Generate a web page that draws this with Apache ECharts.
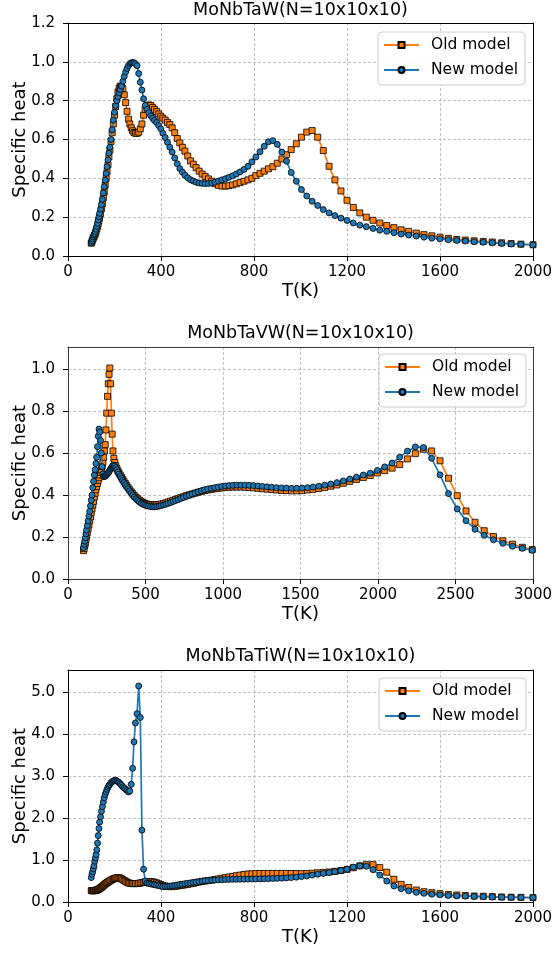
<!DOCTYPE html>
<html>
<head>
<meta charset="utf-8">
<script src="https://cdn.jsdelivr.net/npm/echarts@6/dist/echarts.min.js"></script>
<style>
html,body{margin:0;padding:0;background:#fff;}
#chart{width:555px;height:953px;}
</style>
</head>
<body>
<div id="chart"></div>
<script>
// ---------- data ----------
const panelTitles = ['MoNbTaW(N=10x10x10)', 'MoNbTaVW(N=10x10x10)', 'MoNbTaTiW(N=10x10x10)'];
const seriesNames = ['Old model', 'New model'];
const xAxisName = 'T(K)';
const yAxisName = 'Specific heat';

// temperature grid (K) for MoNbTaW
const tempsTaW = [100,103,106,109,112,115,118,121,124,127,
130,133,136,140,144,148,152,156,160,164,
168,172,176,180,185,190,195,200,205,210,
215,220,225,230,236,242,248,254,260,266,
272,278,284,290,297,304,311,318,325,332,
340,348,356,364,372,381,390,399,408,418,
428,438,448,459,470,481,492,503,515,527,
539,551,564,577,590,604,618,632,647,662,
677,692,708,724,740,757,774,791,808,826,
844,862,881,900,920,940,960,982,1004,1027,
1050,1074,1098,1123,1148,1174,1200,1227,1255,1283,
1312,1341,1371,1402,1433,1465,1498,1531,1565,1600,
1636,1672,1709,1747,1786,1825,1865,1906,1948,2000];

const oldTaW = [0.066,0.074,0.083,0.092,0.100,0.108,0.117,0.128,0.140,0.153,
0.167,0.182,0.197,0.218,0.243,0.27,0.30,0.33,0.365,0.40,
0.435,0.47,0.51,0.545,0.59,0.635,0.68,0.725,0.77,0.81,
0.845,0.865,0.875,0.872,0.862,0.83,0.79,0.745,0.705,0.68,
0.66,0.645,0.636,0.632,0.632,0.638,0.655,0.68,0.725,0.755,
0.772,0.778,0.775,0.765,0.755,0.744,0.732,0.72,0.71,0.70,
0.688,0.677,0.66,0.635,0.605,0.582,0.56,0.54,0.515,0.49,
0.473,0.455,0.437,0.422,0.41,0.397,0.385,0.372,0.364,0.36,
0.36,0.362,0.366,0.372,0.378,0.385,0.392,0.40,0.414,0.426,
0.437,0.449,0.46,0.478,0.50,0.522,0.548,0.578,0.612,0.638,
0.646,0.612,0.543,0.462,0.392,0.335,0.287,0.25,0.222,0.20,
0.184,0.17,0.157,0.146,0.135,0.127,0.118,0.11,0.104,0.097,
0.091,0.085,0.082,0.078,0.075,0.072,0.068,0.064,0.061,0.058];

const newTaW = [0.068,0.077,0.088,0.098,0.108,0.115,0.125,0.138,0.152,0.168,
0.186,0.203,0.220,0.242,0.265,0.292,0.325,0.357,0.39,0.425,
0.46,0.495,0.53,0.56,0.60,0.65,0.70,0.74,0.775,0.80,
0.82,0.84,0.857,0.875,0.90,0.925,0.948,0.966,0.98,0.99,
0.995,0.997,0.995,0.99,0.98,0.94,0.895,0.855,0.81,0.775,
0.755,0.738,0.722,0.71,0.698,0.687,0.672,0.655,0.632,0.61,
0.585,0.56,0.535,0.505,0.475,0.45,0.432,0.416,0.403,0.393,
0.386,0.38,0.376,0.374,0.373,0.373,0.376,0.38,0.386,0.392,
0.398,0.405,0.413,0.422,0.433,0.446,0.462,0.485,0.51,0.537,
0.565,0.588,0.594,0.575,0.535,0.488,0.43,0.385,0.342,0.309,
0.282,0.26,0.239,0.222,0.208,0.195,0.183,0.17,0.159,0.151,
0.142,0.133,0.127,0.12,0.113,0.108,0.103,0.097,0.092,0.088,
0.084,0.08,0.077,0.074,0.071,0.068,0.065,0.062,0.06,0.057];

// temperature grid (K) for MoNbTaVW
const tempsTaVW = [100,104,108,112,116,120,125,130,135,140,
145,150,155,160,165,170,175,180,185,190,
195,200,205,210,215,220,225,230,235,240,
245,250,255,260,265,270,275,280,285,290,
296,302,308,315,322,329,337,345,353,361,
370,379,388,398,408,418,428,439,450,461,
472,484,496,508,520,533,546,559,573,587,
601,616,631,646,662,678,694,711,728,746,
764,782,801,820,840,860,881,902,924,946,
969,992,1016,1040,1065,1090,1116,1142,1169,1197,
1225,1254,1284,1314,1345,1377,1409,1442,1476,1510,
1545,1581,1618,1656,1695,1735,1776,1818,1861,1905,
1950,1996,2043,2091,2140,2190,2241,2293,2346,2400,
2455,2511,2568,2626,2685,2745,2806,2868,2931,2995];

const oldTaVW = [0.135,0.145,0.158,0.172,0.188,0.203,0.222,0.24,0.258,0.277,
0.296,0.315,0.334,0.352,0.37,0.39,0.408,0.425,0.44,0.455,
0.47,0.482,0.495,0.508,0.52,0.535,0.555,0.58,0.61,0.64,
0.71,0.79,0.87,0.93,0.975,1.005,0.93,0.79,0.69,0.61,
0.575,0.555,0.54,0.527,0.515,0.505,0.495,0.485,0.475,0.465,
0.455,0.445,0.435,0.425,0.415,0.406,0.397,0.389,0.382,0.375,
0.369,0.364,0.36,0.357,0.355,0.354,0.353,0.353,0.354,0.355,
0.357,0.36,0.363,0.367,0.371,0.375,0.379,0.383,0.388,0.392,
0.397,0.401,0.405,0.409,0.413,0.417,0.421,0.424,0.427,0.43,
0.432,0.434,0.436,0.437,0.438,0.438,0.438,0.437,0.436,0.434,
0.432,0.43,0.428,0.426,0.424,0.422,0.421,0.42,0.42,0.421,
0.424,0.427,0.431,0.436,0.442,0.448,0.456,0.465,0.474,0.483,
0.493,0.505,0.516,0.528,0.545,0.572,0.597,0.618,0.61,0.563,
0.48,0.397,0.324,0.27,0.23,0.202,0.182,0.166,0.151,0.14];

const newTaVW = [0.15,0.165,0.18,0.197,0.215,0.233,0.255,0.277,0.30,0.322,
0.348,0.375,0.40,0.435,0.465,0.495,0.52,0.55,0.58,0.63,
0.68,0.714,0.70,0.66,0.60,0.535,0.50,0.488,0.488,0.49,
0.494,0.498,0.502,0.506,0.512,0.518,0.524,0.53,0.535,0.54,
0.542,0.538,0.53,0.52,0.51,0.50,0.49,0.48,0.47,0.46,
0.45,0.44,0.43,0.42,0.41,0.40,0.39,0.382,0.374,0.367,
0.361,0.356,0.352,0.349,0.347,0.345,0.344,0.344,0.345,0.347,
0.35,0.353,0.356,0.36,0.364,0.369,0.374,0.378,0.384,0.389,
0.394,0.399,0.405,0.41,0.415,0.42,0.425,0.429,0.432,0.435,
0.438,0.441,0.443,0.445,0.446,0.447,0.447,0.447,0.446,0.445,
0.443,0.441,0.439,0.437,0.435,0.434,0.433,0.432,0.432,0.433,
0.435,0.438,0.442,0.447,0.452,0.459,0.467,0.476,0.485,0.495,
0.504,0.517,0.534,0.552,0.58,0.609,0.629,0.626,0.575,0.496,
0.407,0.334,0.278,0.237,0.208,0.187,0.17,0.156,0.146,0.137];

// temperature grid (K) for MoNbTaTiW (same sampling as MoNbTaW)
const tempsTaTiW = tempsTaW;

const oldTaTiW = [0.27,0.27,0.27,0.27,0.27,0.27,0.275,0.28,0.285,0.29,
0.30,0.31,0.32,0.335,0.35,0.37,0.39,0.41,0.43,0.445,
0.46,0.475,0.49,0.505,0.52,0.535,0.55,0.56,0.57,0.575,
0.578,0.575,0.565,0.55,0.53,0.51,0.49,0.47,0.455,0.445,
0.44,0.438,0.437,0.438,0.44,0.445,0.452,0.46,0.468,0.474,
0.48,0.485,0.485,0.48,0.47,0.455,0.435,0.415,0.395,0.38,
0.37,0.365,0.367,0.372,0.38,0.39,0.40,0.41,0.42,0.435,
0.445,0.46,0.475,0.488,0.50,0.51,0.52,0.535,0.55,0.565,
0.58,0.595,0.61,0.625,0.64,0.655,0.665,0.672,0.676,0.678,
0.68,0.68,0.68,0.68,0.68,0.68,0.678,0.676,0.675,0.678,
0.685,0.695,0.705,0.714,0.73,0.748,0.775,0.815,0.86,0.89,
0.89,0.82,0.71,0.54,0.42,0.345,0.285,0.245,0.222,0.198,
0.18,0.167,0.155,0.143,0.137,0.128,0.12,0.115,0.11,0.105];

const newTaTiW = [0.58,0.66,0.72,0.79,0.86,0.97,1.05,1.13,1.24,1.40,
1.58,1.75,1.90,2.03,2.16,2.27,2.38,2.48,2.56,2.62,
2.68,2.73,2.77,2.80,2.84,2.86,2.88,2.89,2.90,2.88,
2.86,2.84,2.81,2.78,2.74,2.71,2.68,2.65,2.62,2.64,
2.80,3.18,3.81,4.26,4.48,5.14,4.39,1.71,0.78,0.50,
0.45,0.44,0.43,0.42,0.41,0.40,0.39,0.375,0.37,0.37,
0.372,0.376,0.385,0.395,0.405,0.415,0.425,0.435,0.445,0.455,
0.465,0.475,0.485,0.495,0.505,0.512,0.518,0.524,0.528,0.532,
0.535,0.538,0.54,0.541,0.542,0.543,0.545,0.547,0.549,0.55,
0.552,0.555,0.558,0.562,0.567,0.573,0.58,0.59,0.605,0.62,
0.64,0.66,0.68,0.70,0.722,0.748,0.78,0.83,0.86,0.85,
0.77,0.64,0.50,0.38,0.315,0.265,0.23,0.206,0.185,0.17,
0.155,0.145,0.138,0.133,0.128,0.12,0.115,0.11,0.108,0.105];

// tick values
const xTicksTaW = [0,400,800,1200,1600,2000];
const xTicksTaVW = [0,500,1000,1500,2000,2500,3000];
const yTicksTaW = [0,0.2,0.4,0.6,0.8,1.0,1.2];
const yTicksTaVW = [0,0.2,0.4,0.6,0.8,1.0];
const yTicksTaTiW = [0,1,2,3,4,5];

// ---------- layout / style ----------
const FONT = 'DejaVu Sans';
const ORANGE = '#ff7f0e', BLUE = '#1f77b4';
const panels = [
  {top:23,  height:233, xMax:2000, xInt:400, xTicks:xTicksTaW,  yMax:1.2,   yInt:0.2, yTicks:yTicksTaW,  temps:tempsTaW,  old:oldTaW,  neu:newTaW,  titleY:10,  legend:[378,32],  frame:'#000'},
  {top:347, height:232, xMax:3000, xInt:500, xTicks:xTicksTaVW, yMax:1.105, yInt:0.2, yTicks:yTicksTaVW, temps:tempsTaVW, old:oldTaVW, neu:newTaVW, titleY:333, legend:[379,354], frame:'#3a3a3a'},
  {top:670, height:232, xMax:2000, xInt:400, xTicks:xTicksTaW,  yMax:5.52,  yInt:1,   yTicks:yTicksTaTiW,temps:tempsTaTiW,old:oldTaTiW,neu:newTaTiW,titleY:656, legend:[379,678], frame:'#000'}
];
const LEFT = 68, WIDTH = 465;
const gridLine = {show: true, lineStyle: {color: '#b0b0b0', width: 0.8, type: [3, 2]}};

const xAxes = [], yAxes = [];
panels.forEach((p, i) => {
  xAxes.push({
    type: 'value', gridIndex: i, position: 'bottom', min: 0, max: p.xMax, interval: p.xInt,
    axisLine: {show: true, onZero: false, lineStyle: {color: p.frame, width: 1}},
    axisTick: {show: true, length: 5, lineStyle: {color: '#000', width: 1}, customValues: p.xTicks},
    axisLabel: {color: '#000', fontSize: 15, fontFamily: FONT, margin: 9, customValues: p.xTicks,
      formatter: v => String(Math.round(v))},
    splitLine: gridLine,
    name: xAxisName, nameLocation: 'middle', nameGap: 26, nameMoveOverlap: false,
    nameTextStyle: {color: '#000', fontSize: 18, fontFamily: FONT}
  });
  yAxes.push({
    type: 'value', gridIndex: i, position: 'left', min: 0, max: p.yMax, interval: p.yInt,
    axisLine: {show: true, onZero: false, lineStyle: {color: p.frame, width: 1}},
    axisTick: {show: true, length: 5, lineStyle: {color: '#000', width: 1}, customValues: p.yTicks},
    axisLabel: {color: '#000', fontSize: 15, fontFamily: FONT, margin: 13, customValues: p.yTicks,
      formatter: v => Number(v).toFixed(1)},
    splitLine: gridLine,
    name: yAxisName, nameLocation: 'middle', nameGap: 39, nameRotate: 90, nameMoveOverlap: false,
    nameTextStyle: {color: '#000', fontSize: 18, fontFamily: FONT}
  });
});
// frame axes (top / right spines)
panels.forEach((p, i) => {
  xAxes.push({type: 'value', gridIndex: i, position: 'top', min: 0, max: p.xMax, interval: p.xInt,
    axisLine: {show: true, onZero: false, lineStyle: {color: p.frame, width: 1}},
    axisTick: {show: false}, axisLabel: {show: false}, splitLine: {show: false}});
  yAxes.push({type: 'value', gridIndex: i, position: 'right', min: 0, max: p.yMax, interval: p.yInt,
    axisLine: {show: true, onZero: false, lineStyle: {color: p.frame, width: 1}},
    axisTick: {show: false}, axisLabel: {show: false}, splitLine: {show: false}});
});

const option = {
  animation: false,
  backgroundColor: '#fff',
  grid: panels.map(p => ({left: LEFT, top: p.top, width: WIDTH, height: p.height, show: false,
    containLabel: false, outerBoundsMode: 'none'})),
  xAxis: xAxes,
  yAxis: yAxes,
  legend: panels.map(p => ({
    left: p.legend[0], top: p.legend[1], orient: 'vertical',
    data: seriesNames, itemWidth: 35, itemHeight: 7.5, itemGap: 9,
    padding: [5, 7, 7, 5],
    backgroundColor: 'rgba(255,255,255,0.85)', borderColor: '#cccccc', borderWidth: 1, borderRadius: 4,
    textStyle: {color: '#000', fontSize: 15.5, fontFamily: FONT, padding: [0, 0, 0, 7]},
    selectedMode: false
  })),
  graphic: panels.map((p, i) => ({
    type: 'text', x: LEFT + WIDTH / 2, y: p.titleY,
    style: {text: panelTitles[i], fill: '#000', font: '17.5px "DejaVu Sans"', align: 'center', verticalAlign: 'middle'}
  })),
  series: []
};

panels.forEach((p, i) => {
  option.series.push({
    type: 'line', name: seriesNames[0], xAxisIndex: i, yAxisIndex: i,
    data: p.temps.map((t, k) => [t, p.old[k]]),
    symbol: 'rect', symbolSize: 6, showSymbol: true,
    lineStyle: {color: ORANGE, width: 1.7},
    itemStyle: {color: ORANGE, borderColor: '#000', borderWidth: 0.8},
    emphasis: {disabled: true}, z: 2
  });
  option.series.push({
    type: 'line', name: seriesNames[1], xAxisIndex: i, yAxisIndex: i,
    data: p.temps.map((t, k) => [t, p.neu[k]]),
    symbol: 'circle', symbolSize: 6, showSymbol: true,
    lineStyle: {color: BLUE, width: 1.7},
    itemStyle: {color: BLUE, borderColor: '#000', borderWidth: 0.8},
    emphasis: {disabled: true}, z: 3
  });
});

const chart = echarts.init(document.getElementById('chart'), null, {renderer: 'canvas'});
chart.setOption(option);
</script>
</body>
</html>
